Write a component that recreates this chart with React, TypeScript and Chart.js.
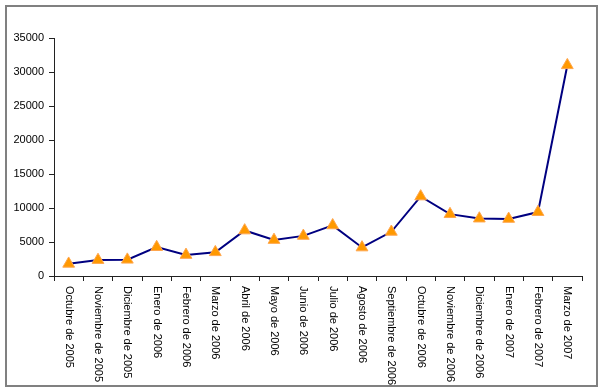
import React, { useEffect, useRef } from "react";
import { Chart, registerables } from "chart.js";

Chart.register(...registerables);

const categories: string[] = [
  "Octubre de 2005",
  "Noviembre de 2005",
  "Diciembre de 2005",
  "Enero de 2006",
  "Febrero de 2006",
  "Marzo de 2006",
  "Abril de 2006",
  "Mayo de 2006",
  "Junio de 2006",
  "Julio de 2006",
  "Agosto de 2006",
  "Septiembre de 2006",
  "Octubre de 2006",
  "Noviembre de 2006",
  "Diciembre de 2006",
  "Enero de 2007",
  "Febrero de 2007",
  "Marzo de 2007",
];

const values: number[] = [
  1800, 2350, 2400, 4250, 3100, 3500, 6700, 5300, 5900, 7450, 4200, 6500,
  11700, 9100, 8450, 8400, 9400, 31000,
];

const yMin = 0;
const yMax = 35000;
const yStep = 5000;

const FONT = '"Liberation Sans", Arial, sans-serif';

export default function App() {
  const ref = useRef<HTMLCanvasElement | null>(null);

  useEffect(() => {
    if (!ref.current) return;
    const framePlugin = {
      id: "frame",
      beforeDraw(chart: any) {
        const ctx = chart.ctx;
        ctx.save();
        ctx.fillStyle = "#ffffff";
        ctx.fillRect(0, 0, chart.width, chart.height);
        ctx.strokeStyle = "#808080";
        ctx.lineWidth = 2;
        ctx.strokeRect(6, 6, 591, 380);
        ctx.restore();
      },
      afterDraw(chart: any) {
        const ctx = chart.ctx;
        const xs = chart.scales.x;
        ctx.save();
        ctx.font = "11px " + FONT;
        ctx.fillStyle = "#000000";
        ctx.textAlign = "left";
        ctx.textBaseline = "middle";
        categories.forEach((lab, i) => {
          const x = xs.getPixelForValue(i);
          ctx.save();
          ctx.translate(x, xs.top + 10);
          ctx.rotate(Math.PI / 2);
          ctx.fillText(lab, 0, 0);
          ctx.restore();
        });
        ctx.restore();
      },
    };

    const chart = new Chart(ref.current, {
      type: "line",
      data: {
        labels: categories,
        datasets: [
          {
            data: values,
            borderColor: "#000080",
            borderWidth: 2,
            tension: 0,
            pointStyle: "triangle",
            pointRadius: 6.8,
            pointHoverRadius: 6.8,
            pointBackgroundColor: "#FF9900",
            pointBorderColor: "#FFA64D",
            pointBorderWidth: 1,
          },
        ],
      },
      options: {
        responsive: false,
        animation: false,
        events: [],
        layout: { padding: { top: 38, right: 24, bottom: 0, left: 0 } },
        plugins: {
          legend: { display: false },
          tooltip: { enabled: false },
        },
        scales: {
          x: {
            type: "category",
            offset: true,
            grid: {
              offset: true,
              drawOnChartArea: false,
              drawTicks: true,
              tickLength: 5,
              color: "#222222",
              tickColor: "#222222",
            },
            border: { display: true, color: "#222222", width: 1 },
            ticks: { display: false },
            afterFit(scale: any) {
              scale.height = 116;
            },
          },
          y: {
            min: yMin,
            max: yMax,
            grid: {
              drawOnChartArea: false,
              drawTicks: true,
              tickLength: 5,
              color: "#222222",
              tickColor: "#222222",
            },
            border: { display: true, color: "#222222", width: 1 },
            ticks: {
              stepSize: yStep,
              padding: 5,
              color: "#000000",
              font: { family: FONT, size: 11 },
              callback: (v: any) => String(v),
            },
            afterFit(scale: any) {
              scale.width = 54;
            },
          },
        },
      },
      plugins: [framePlugin],
    });
    return () => chart.destroy();
  }, []);

  return (
    <div style={{ position: "absolute", left: 0, top: 0, width: 606, height: 392 }}>
      <canvas ref={ref} width={606} height={392} style={{ display: "block" }} />
    </div>
  );
}
